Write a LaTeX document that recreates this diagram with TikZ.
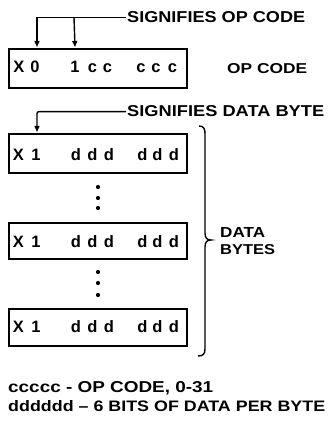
\documentclass[tikz,border=0pt]{standalone}
\usepackage{graphicx}
\usepackage{fontspec}
\setmainfont{Liberation Sans}
\usetikzlibrary{arrows.meta}
\begin{document}
\begin{tikzpicture}[x=1pt,y=-1pt,
  box/.style={draw, line width=2pt, inner sep=0pt, minimum width=178pt, anchor=north west},
  conn/.style={line width=1.4pt},
  tip/.style={-{Triangle[length=6pt,width=5pt]}},
  ch/.style={anchor=base, inner sep=0pt, font=\bfseries\fontsize{16.5}{16.5}\selectfont},
  lbl/.style={anchor=base west, inner sep=0pt, font=\bfseries}]
\useasboundingbox (0,0) rectangle (328,422);
% boxes
\node[box, minimum height=39pt] (b1) at (8,48) {};
\node[box, minimum height=39pt] (b2) at (8,133) {};
\node[box, minimum height=36pt] (b3) at (8,222) {};
\node[box, minimum height=37pt] (b4) at (8,308) {};
% op code box contents
\node[ch] (o1) at (19,73) {X};
\node[ch] (o2) at (35,73) {0};
\node[ch] (o3) at (75,73) {1};
\node[ch] (o4) at (92.5,73) {c};
\node[ch] (o5) at (107.5,73) {c};
\node[ch] (o6) at (141,73) {c};
\node[ch] (o7) at (156,73) {c};
\node[ch] (o8) at (172.5,73) {c};
% data boxes contents
\foreach \k/\yb in {2/160,3/247,4/332}{
  \node[ch] (x\k) at (18.5,\yb) {X};
  \node[ch] (y\k) at (36,\yb) {1};
  \node[ch] (da\k) at (76,\yb) {d};
  \node[ch] (db\k) at (92.5,\yb) {d};
  \node[ch] (dc\k) at (109,\yb) {d};
  \node[ch] (dd\k) at (142.5,\yb) {d};
  \node[ch] (de\k) at (157.5,\yb) {d};
  \node[ch] (df\k) at (174,\yb) {d};
}
% dots
\foreach \yy in {187,198,208,272,283,295}{
  \fill (98,\yy) circle (2.1pt);
}
% labels
\node[lbl] (sop) at (127,23) {\resizebox{178pt}{11pt}{SIGNIFIES OP CODE}};
\node[lbl] (opc) at (227,74) {\resizebox{80pt}{10pt}{OP CODE}};
\node[lbl] (sdb) at (127,117) {\resizebox{197pt}{11pt}{SIGNIFIES DATA BYTE}};
\node[lbl] (data) at (220,237) {\resizebox{45pt}{10pt}{DATA}};
\node[lbl] (bytes) at (220,254) {\resizebox{55pt}{10pt}{BYTES}};
\node[lbl] (l1) at (8,392) {\resizebox{205pt}{11pt}{ccccc - OP CODE, 0-31}};
\node[lbl] (l2) at (8,411) {\resizebox{317pt}{11pt}{dddddd {\char"2013} 6 BITS OF DATA PER BYTE}};
% connectors
\coordinate (a1) at (37,47);
\coordinate (a2) at (75,47);
\coordinate (a3) at (37,132);
\draw[conn,tip] ([xshift=-1pt]sop.west) -| (a1);
\draw[conn,tip] ([xshift=-1pt]sop.west -| a2) -- (a2);
\draw[conn,tip,rounded corners=2pt] ([xshift=-1pt]sdb.west) -| (a3);
% brace
\draw[line width=1.4pt] (199,126) .. controls (204,126) and (205,129) .. (205,134)
  -- (205,233) .. controls (205,238) and (207,240) .. (211,240)
  .. controls (207,240) and (205,242) .. (205,247)
  -- (205,349) .. controls (205,354) and (203,356) .. (198,356);
\end{tikzpicture}
\end{document}
